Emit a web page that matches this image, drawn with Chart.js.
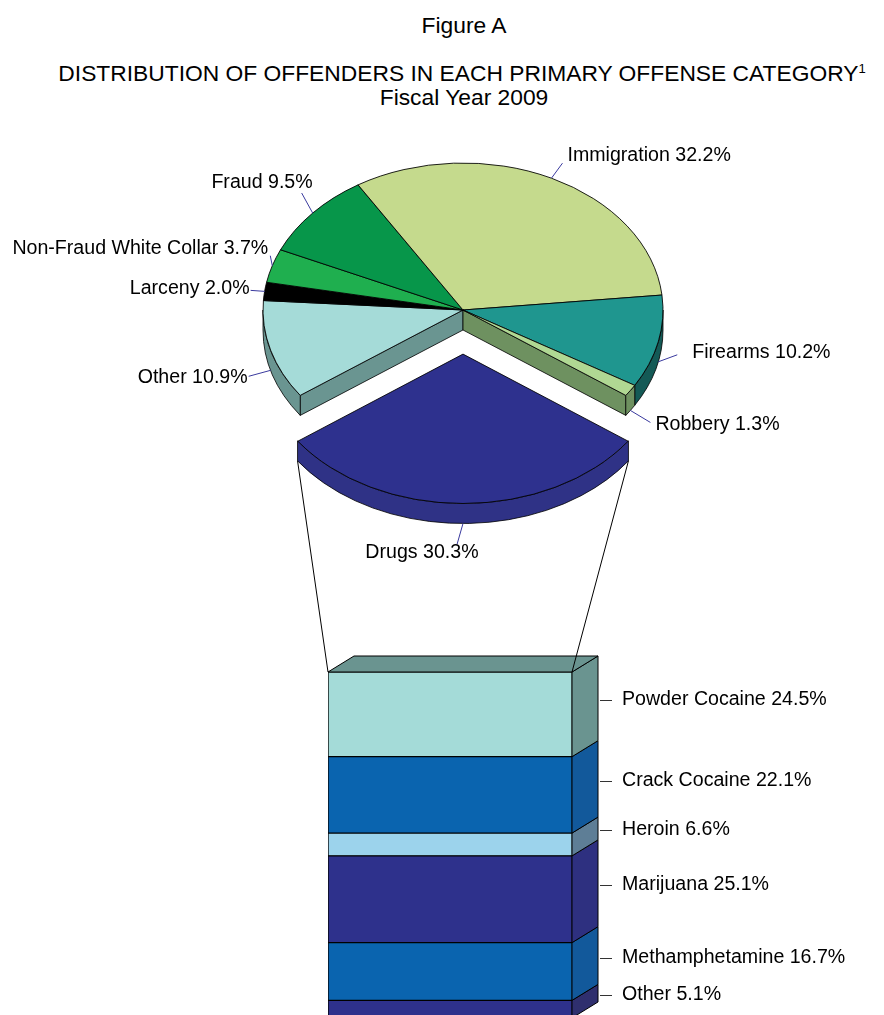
<!DOCTYPE html>
<html lang="en">
<head>
<meta charset="UTF-8">
<title>Figure A - Distribution of Offenders, Fiscal Year 2009</title>
<script src="https://cdn.jsdelivr.net/npm/chart.js"></script>
<style>
    body {
        margin: 0;
        width: 884px;
        height: 1015px;
        overflow: hidden;
        position: relative;
        background: #fff;
        font-family: 'Liberation Sans', Arial, sans-serif;
        color: #000;
    }
    .title {
        position: absolute;
        left: 0;
        width: 884px;
        text-align: center;
        font-size: 22.8px;
        line-height: 24px;
        white-space: nowrap;
    }
    .title sup { font-size: 13px; vertical-align: 8px; line-height: 0; }
    canvas { position: absolute; left: 0; top: 0; }
</style>
</head>
<body>
<div class="title" style="top:13px; left:22px">Figure A</div>
<div class="title" style="top:61px; left:20px">DISTRIBUTION OF OFFENDERS IN EACH PRIMARY OFFENSE CATEGORY<sup>1</sup></div>
<div class="title" style="top:85px; left:22px">Fiscal Year 2009</div>

<canvas id="drugChart" width="884" height="1060"></canvas>
<canvas id="offenseChart" width="884" height="1015"></canvas>

<script>
// Primary offense categories (pie, drawn clockwise starting with Drugs)
const offenseLabels = ['Drugs', 'Other', 'Larceny', 'Non-Fraud White Collar', 'Fraud', 'Immigration', 'Firearms', 'Robbery'];
const offenseShares = [30.3, 10.9, 2.0, 3.7, 9.5, 32.2, 10.2, 1.3];

// Drug types within the Drugs slice (column, listed top to bottom)
const drugLabels = ['Powder Cocaine', 'Crack Cocaine', 'Heroin', 'Marijuana', 'Methamphetamine', 'Other'];
const drugShares = [24.5, 22.1, 6.6, 25.1, 16.7, 5.1];

// styling
const pieTop  = ['#2E318E', '#A5DBD8', '#000000', '#1FAF4F', '#07964A', '#C5DA8D', '#1F968F', '#B0D893'];
const pieSide = ['#2F3286', '#6A9591', '#000000', '#17813A', '#056B35', '#8C9C63', '#145A56', '#6E9160'];
const barFront = ['#A4DBD8', '#0A64AF', '#9CD3EC', '#2E318C', '#0A64AF', '#2E318C'];
const barSide  = ['#6A9490', '#12599B', '#5E7E96', '#2E3080', '#12599B', '#2F2F6E'];

const FONT = '19.6px "Liberation Sans", Arial, sans-serif';
const TILT = 0.735;     // vertical squash of the pie
const DEPTH = 20;       // pie thickness
const BAR_DX = 26, BAR_DY = -16;   // column depth

// leader end and text position relative to each slice's anchor point
const pieLabelLayout = [
    { line: [-6, 21],   text: [-41, 29], align: 'center' },
    { line: [-22, 6],   text: [-23, 7],  align: 'right' },
    { line: [-14, -1],  text: [-15, -3], align: 'right' },
    { line: [-2, -10],  text: [-4, -17], align: 'right' },
    { line: [-11, -20], text: [0, -30],  align: 'right' },
    { line: [11, -15],  text: [16, -23], align: 'left' },
    { line: [19, -7],   text: [34, -9],  align: 'left' },
    { line: [20, 12],   text: [25, 14],  align: 'left' }
];

const pct = v => v.toFixed(1) + '%';
const offenseTotal = offenseShares.reduce((a, b) => a + b, 0);
const drugTotal = drugShares.reduce((a, b) => a + b, 0);

// ---------- stacked drug column ----------
const bar3d = {
    id: 'bar3d',
    beforeDatasetsDraw(chart) {
        const ctx = chart.ctx;
        const n = chart.data.datasets.length;
        ctx.save();
        ctx.lineWidth = 1;
        ctx.strokeStyle = '#000';
        chart.data.datasets.forEach((ds, i) => {
            const bar = chart.getDatasetMeta(i).data[0];
            const { x, y, base, width } = bar.getProps(['x', 'y', 'base', 'width']);
            const l = x - width / 2, r = x + width / 2;
            ctx.fillStyle = ds.sideColor;
            ctx.beginPath();
            ctx.moveTo(r, y);
            ctx.lineTo(r + BAR_DX, y + BAR_DY);
            ctx.lineTo(r + BAR_DX, base + BAR_DY);
            ctx.lineTo(r, base);
            ctx.closePath();
            ctx.fill();
            ctx.stroke();
            if (i === n - 1) {
                ctx.beginPath();
                ctx.moveTo(l, y);
                ctx.lineTo(l + BAR_DX, y + BAR_DY);
                ctx.lineTo(r + BAR_DX, y + BAR_DY);
                ctx.lineTo(r, y);
                ctx.closePath();
                ctx.fill();
                ctx.stroke();
            }
        });
        ctx.restore();
    },
    afterDatasetsDraw(chart) {
        const ctx = chart.ctx;
        ctx.save();
        ctx.font = FONT;
        ctx.textBaseline = 'middle';
        ctx.textAlign = 'left';
        chart.data.datasets.forEach((ds, i) => {
            const bar = chart.getDatasetMeta(i).data[0];
            const { x, y, base, width } = bar.getProps(['x', 'y', 'base', 'width']);
            const back = x + width / 2 + BAR_DX;
            const ly = Math.round((y + base) / 2 + BAR_DY / 2 - 6);
            ctx.strokeStyle = '#333';
            ctx.lineWidth = 1;
            ctx.beginPath();
            ctx.moveTo(back + 2, ly + 0.5);
            ctx.lineTo(back + 14, ly + 0.5);
            ctx.stroke();
            ctx.fillStyle = '#000';
            ctx.fillText(ds.label + ' ' + pct(ds.data[0]), back + 24, ly);
        });
        ctx.restore();
    }
};

// bottom segment first, so build the stack in reverse
const drugDatasets = drugLabels.map((label, i) => ({
    label: label,
    data: [drugShares[i]],
    backgroundColor: barFront[i],
    sideColor: barSide[i],
    borderColor: '#000',
    borderWidth: 1,
    borderSkipped: false,
    barPercentage: 1,
    categoryPercentage: 1
})).reverse();

const drugChart = new Chart(document.getElementById('drugChart'), {
    type: 'bar',
    data: { labels: ['Drugs'], datasets: drugDatasets },
    options: {
        responsive: false,
        animation: false,
        events: [],
        layout: { padding: { left: 328, right: 312, top: 672, bottom: 42 } },
        scales: {
            x: { display: false, stacked: true },
            y: { display: false, stacked: true, min: 0, max: drugTotal }
        },
        plugins: { legend: { display: false }, tooltip: { enabled: false } }
    },
    plugins: [bar3d]
});

// ---------- tilted, exploded offense pie ----------
function sliceGeom(arc) {
    const p = arc.getProps(['x', 'y', 'startAngle', 'endAngle', 'outerRadius', 'circumference']);
    const off = (arc.options.offset || 0) / 4;
    const mid = (p.startAngle + p.endAngle) / 2;
    const fix = 1 - Math.sin(Math.min(Math.PI, p.circumference || 0));
    return {
        ex: p.x + Math.cos(mid) * off,
        ey: p.y + Math.sin(mid) * off * TILT,
        r: p.outerRadius + off * fix,
        a: p.startAngle,
        b: p.endAngle,
        mid: mid,
        exploded: off > 0
    };
}

function rimPoint(g, ang) {
    return [g.ex + g.r * Math.cos(ang), g.ey + g.r * TILT * Math.sin(ang)];
}

function drawFace(ctx, g, ang) {
    const [px, py] = rimPoint(g, ang);
    ctx.beginPath();
    ctx.moveTo(g.ex, g.ey);
    ctx.lineTo(px, py);
    ctx.lineTo(px, py + DEPTH);
    ctx.lineTo(g.ex, g.ey + DEPTH);
    ctx.closePath();
    ctx.fill();
    ctx.stroke();
}

function drawWall(ctx, g, a, b) {
    const rx = g.r, ry = g.r * TILT;
    ctx.beginPath();
    ctx.ellipse(g.ex, g.ey, rx, ry, 0, a, b, false);
    ctx.lineTo(g.ex + rx * Math.cos(b), g.ey + ry * Math.sin(b) + DEPTH);
    ctx.ellipse(g.ex, g.ey + DEPTH, rx, ry, 0, b, a, true);
    ctx.closePath();
    ctx.fill();
    ctx.stroke();
}

const pie3d = {
    id: 'pie3d',
    beforeDatasetsDraw(chart) {
        const ctx = chart.ctx;
        const arcs = chart.getDatasetMeta(0).data;
        const geoms = arcs.map(sliceGeom);
        const n = geoms.length;
        ctx.save();
        ctx.strokeStyle = '#000';
        ctx.lineWidth = 0.8;
        ctx.lineJoin = 'round';
        // cut faces that border the pulled-out slice
        geoms.forEach((g, i) => {
            ctx.fillStyle = pieSide[i];
            const prev = geoms[(i - 1 + n) % n], next = geoms[(i + 1) % n];
            if (prev.exploded !== g.exploded && Math.cos(g.a) < 0) drawFace(ctx, g, g.a);
            if (next.exploded !== g.exploded && Math.cos(g.b) > 0) drawFace(ctx, g, g.b);
        });
        // front rim, body of the pie first and the pulled-out slice last
        const order = geoms.map((g, i) => i).sort((p, q) => geoms[p].exploded - geoms[q].exploded);
        order.forEach(i => {
            const g = geoms[i];
            ctx.fillStyle = pieSide[i];
            for (let k = -1; k <= 1; k++) {
                const lo = Math.max(g.a, 2 * Math.PI * k);
                const hi = Math.min(g.b, 2 * Math.PI * k + Math.PI);
                if (hi > lo) drawWall(ctx, g, lo, hi);
            }
        });
        ctx.restore();
    },
    beforeDatasetDraw(chart, args) {
        const ctx = chart.ctx;
        const cy = args.meta.data[0].y;
        ctx.save();
        ctx.translate(0, cy);
        ctx.scale(1, TILT);
        ctx.translate(0, -cy);
    },
    afterDatasetDraw(chart) {
        chart.ctx.restore();
    },
    afterDatasetsDraw(chart) {
        const ctx = chart.ctx;
        const arcs = chart.getDatasetMeta(0).data;
        const geoms = arcs.map(sliceGeom);
        ctx.save();
        // slice labels with leader lines
        ctx.font = FONT;
        ctx.textBaseline = 'middle';
        geoms.forEach((g, i) => {
            let [ax, ay] = rimPoint(g, g.mid);
            if (Math.sin(g.mid) > 0) ay += DEPTH;
            const lay = pieLabelLayout[i];
            ctx.strokeStyle = '#3A3A9E';
            ctx.lineWidth = 1;
            ctx.beginPath();
            ctx.moveTo(ax, ay);
            ctx.lineTo(ax + lay.line[0], ay + lay.line[1]);
            ctx.stroke();
            ctx.fillStyle = '#000';
            ctx.textAlign = lay.align;
            ctx.fillText(offenseLabels[i] + ' ' + pct(offenseShares[i]), ax + lay.text[0], ay + lay.text[1]);
        });
        // lines from the pulled-out slice down to the drug column
        const drugs = geoms.find(g => g.exploded);
        const topBar = drugChart.getDatasetMeta(drugChart.data.datasets.length - 1).data[0];
        const { x, y, width } = topBar.getProps(['x', 'y', 'width']);
        const [lx, ly] = rimPoint(drugs, drugs.b);
        const [rx, ry] = rimPoint(drugs, drugs.a);
        ctx.strokeStyle = '#000';
        ctx.lineWidth = 1;
        ctx.beginPath();
        ctx.moveTo(lx, ly + DEPTH);
        ctx.lineTo(x - width / 2, y);
        ctx.moveTo(rx, ry + DEPTH);
        ctx.lineTo(x + width / 2, y);
        ctx.stroke();
        ctx.restore();
    }
};

new Chart(document.getElementById('offenseChart'), {
    type: 'pie',
    data: {
        labels: offenseLabels,
        datasets: [{
            data: offenseShares,
            backgroundColor: pieTop,
            borderColor: '#000',
            borderWidth: 1,
            offset: offenseShares.map((v, i) => i === 0 ? 240 : 0),
            hoverOffset: 0,
            clip: false
        }]
    },
    options: {
        responsive: false,
        animation: false,
        events: [],
        radius: 200,
        // centre the Drugs slice at the front
        rotation: 180 - 180 * offenseShares[0] / offenseTotal,
        layout: { padding: { left: 62, right: 20, top: 10, bottom: 405 } },
        plugins: { legend: { display: false }, tooltip: { enabled: false } }
    },
    plugins: [pie3d]
});
</script>
</body>
</html>
